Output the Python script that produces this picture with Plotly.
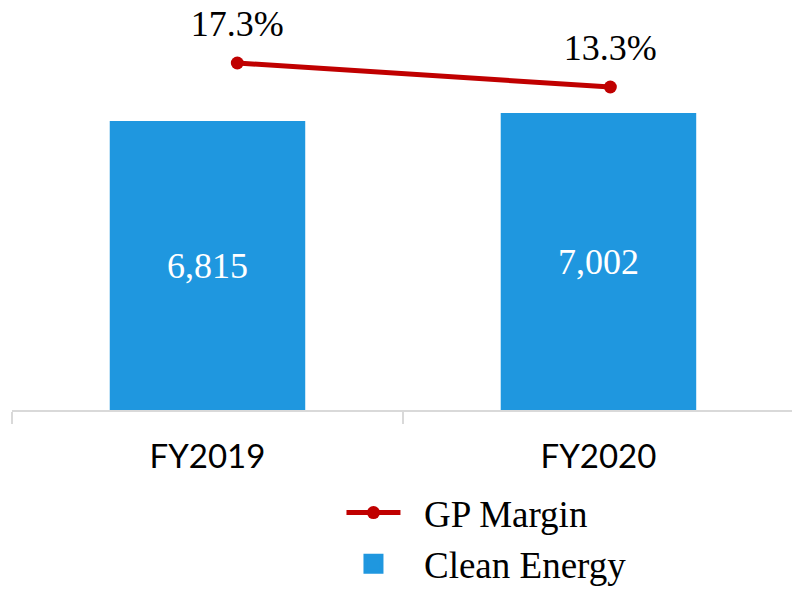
import plotly.graph_objects as go

categories = ["FY2019", "FY2020"]
clean_energy = [6815, 7002]
gp_margin = [17.3, 13.3]
bar_labels = ["6,815", "7,002"]
margin_labels = ["17.3%", "13.3%"]

BLUE = "#1F97DF"
RED = "#C00000"
SERIF = "Liberation Serif, Times New Roman, serif"
NB = "\u00a0\u00a0"

fig = go.Figure()

fig.add_trace(go.Bar(
    x=categories, y=clean_energy, name="Clean Energy",
    marker=dict(color=BLUE, line=dict(width=0)),
    width=0.5, text=bar_labels, textposition="inside",
    insidetextanchor="middle", constraintext="none",
    textfont=dict(family=SERIF, size=36, color="white"),
    insidetextfont=dict(family=SERIF, size=36, color="white"),
    showlegend=False, xaxis="x", yaxis="y",
))

fig.add_trace(go.Scatter(
    x=categories, y=gp_margin, name=NB + "GP Margin",
    mode="lines+markers",
    line=dict(color=RED, width=5), marker=dict(color=RED, size=13),
    xaxis="x2", yaxis="y2", legendrank=1,
))

# value labels above the line points
fig.add_trace(go.Scatter(
    x=categories, y=gp_margin, mode="markers+text", text=margin_labels,
    textposition="top center", cliponaxis=False,
    textfont=dict(family=SERIF, size=36, color="black"),
    marker=dict(size=28, color="rgba(0,0,0,0)"),
    hoverinfo="skip", showlegend=False, xaxis="x2", yaxis="y2",
))

# legend proxy for bars (square symbol)
fig.add_trace(go.Scatter(
    x=[None], y=[None], name=NB + "Clean Energy", mode="markers",
    marker=dict(symbol="square", color=BLUE, size=16, line=dict(color=BLUE, width=4)),
    xaxis="x", yaxis="y", legendrank=2,
))

fig.update_layout(
    width=792, height=589,
    margin=dict(l=12, r=0, t=0, b=179, autoexpand=False),
    plot_bgcolor="white", paper_bgcolor="white",
    showlegend=True,
    xaxis=dict(
        type="category", range=[-0.5, 1.495], automargin=False,
        showline=True, linecolor="#D9D9D9", linewidth=2,
        ticks="outside", tickson="boundaries", ticklen=12, tickcolor="#D9D9D9", tickwidth=2,
        tickfont=dict(family="Lato, Carlito, Calibri, sans-serif", size=33, color="black"),
        ticklabelstandoff=16,
        showgrid=False, zeroline=False,
    ),
    xaxis2=dict(
        type="category", overlaying="x", range=[-0.604, 1.487],
        visible=False, showgrid=False, zeroline=False,
    ),
    yaxis=dict(range=[0, 9669], visible=False, showgrid=False, zeroline=False, automargin=False),
    yaxis2=dict(range=[-40.53, 27.8], overlaying="y", visible=False,
                showgrid=False, zeroline=False, automargin=False),
    legend=dict(
        x=0.4224, y=-0.1756, xanchor="left", yanchor="top",
        orientation="v", itemwidth=54,
        font=dict(family=SERIF, size=37, color="black"),
        bgcolor="rgba(0,0,0,0)", tracegroupgap=0,
    ),
)

fig.write_html(
    "out.html",
    config={"displayModeBar": False},
    post_script="document.body.style.margin='0';document.body.style.overflow='hidden';",
)
